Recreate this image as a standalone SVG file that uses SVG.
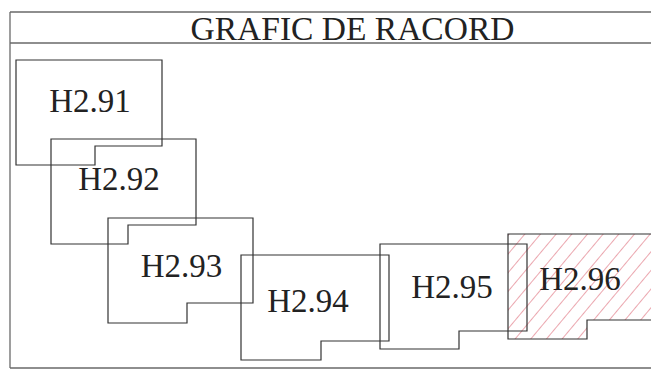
<svg xmlns="http://www.w3.org/2000/svg" width="651" height="370" viewBox="0 0 651 370">
<style>
.frame{fill:none;stroke:#6a6a6a;stroke-width:1.3}
.lot{fill:none;stroke:#333;stroke-width:1.2}
.lbl{font-family:"Liberation Serif","Times New Roman",serif;font-size:33px;fill:#222;text-anchor:middle}
.title{font-family:"Liberation Serif","Times New Roman",serif;font-size:33.5px;fill:#222;text-anchor:middle}
</style>
<defs>
<pattern id="hatch" patternUnits="userSpaceOnUse" width="12" height="12" patternTransform="rotate(40)">
<line x1="0" y1="0" x2="0" y2="12" stroke="#d8505f" stroke-width="1"/>
</pattern>
</defs>
<rect width="651" height="370" fill="#fff"/>
<g id="frame">
<path class="frame" d="M10,12 H651 M10,43 H651 M10,12 V368 M10,368 H651"/>
<text class="title" x="352.5" y="39.5">GRAFIC DE RACORD</text>
</g>
<g id="H2.96">
<polygon points="508,234 660,234 660,320 587,320 587,339 508,339" fill="url(#hatch)" stroke="#333" stroke-width="1.2"/>
<text class="lbl" x="580" y="290">H2.96</text>
</g>
<g id="H2.91">
<polygon class="lot" points="16,60 162,60 162,146 95,146 95,165 16,165"/>
<text class="lbl" x="90" y="112">H2.91</text>
</g>
<g id="H2.92">
<polygon class="lot" points="51,139 196,139 196,225 128,225 128,244 51,244"/>
<text class="lbl" x="119" y="190">H2.92</text>
</g>
<g id="H2.93">
<polygon class="lot" points="108,218 253,218 253,303 187,303 187,323 108,323"/>
<text class="lbl" x="181.5" y="277">H2.93</text>
</g>
<g id="H2.94">
<polygon class="lot" points="241,255 389,255 389,341 321,341 321,360 241,360"/>
<text class="lbl" x="308" y="312">H2.94</text>
</g>
<g id="H2.95">
<polygon class="lot" points="380,244 527,244 527,331 459,331 459,349 380,349"/>
<text class="lbl" x="452" y="298">H2.95</text>
</g>
<g id="connectors"/>
</svg>
